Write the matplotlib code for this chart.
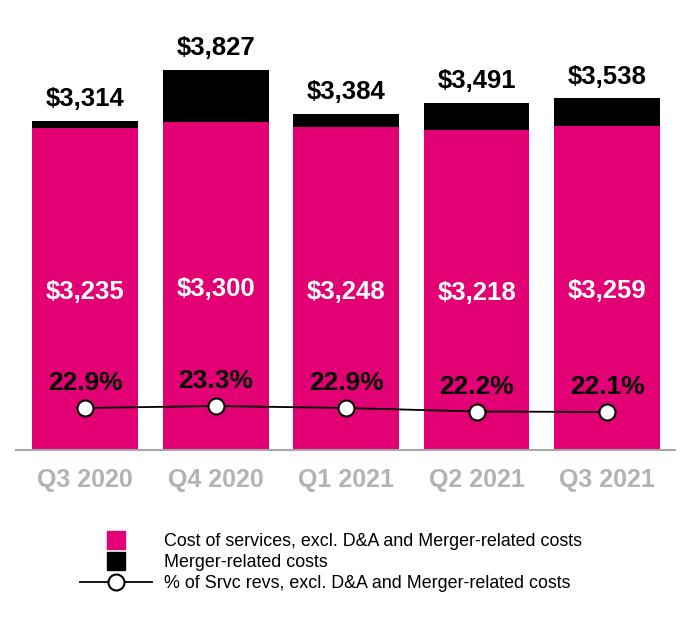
import matplotlib.pyplot as plt
from matplotlib.lines import Line2D

plt.rcParams['font.family'] = ['Liberation Sans', 'DejaVu Sans']

quarters = ['Q3 2020', 'Q4 2020', 'Q1 2021', 'Q2 2021', 'Q3 2021']
cost_services = [3235, 3300, 3248, 3218, 3259]
totals = [3314, 3827, 3384, 3491, 3538]
pct_revs = [22.9, 23.3, 22.9, 22.2, 22.1]

merger = [t - c for t, c in zip(totals, cost_services)]

magenta = '#E20074'
x = list(range(len(quarters)))

fig = plt.figure(figsize=(6.9, 6.2), dpi=100)
ax = fig.add_axes([16 / 690, 170 / 620, 659 / 690, 430 / 620])

ax.bar(x, cost_services, width=0.81, color=magenta, zorder=2)
ax.bar(x, merger, width=0.81, bottom=cost_services, color='black', zorder=2)

ax.set_xlim(-0.53, 4.52)
ax.set_ylim(0, 4326)

for i in x:
    ax.annotate(f'${totals[i]:,}', (i, totals[i]), xytext=(0, 7), textcoords='offset points',
                ha='center', va='bottom', fontsize=18.5, fontweight='bold', color='black')
    ax.text(i, cost_services[i] * 0.49, f'${cost_services[i]:,}', ha='center', va='center',
            fontsize=18.5, fontweight='bold', color='white')

for s in ['top', 'right', 'left']:
    ax.spines[s].set_visible(False)
ax.spines['bottom'].set_color('#a6a6a6')
ax.spines['bottom'].set_linewidth(1.5)
ax.set_yticks([])
ax.set_xticks(x)
ax.set_xticklabels(quarters, fontsize=18, fontweight='bold', color='#b3b3b3')
ax.tick_params(axis='x', length=0, pad=13)

ax2 = ax.twinx()
ax2.set_ylim(14.5, 100.5)
ax2.plot(x, pct_revs, color='black', lw=1.3, marker='o', markersize=11.5,
         markerfacecolor='white', markeredgecolor='black', markeredgewidth=1.5, zorder=3)
for i in x:
    ax2.annotate(f'{pct_revs[i]}%', (i, pct_revs[i]), xytext=(0, 9), textcoords='offset points',
                 ha='center', va='bottom', fontsize=19, fontweight='bold', color='black')
ax2.axis('off')

handles = [
    Line2D([], [], ls='none', marker='s', markersize=13, color=magenta),
    Line2D([], [], ls='none', marker='s', markersize=13, color='black'),
    Line2D([], [], color='black', lw=1.3, marker='o', markersize=11.5,
           markerfacecolor='white', markeredgecolor='black', markeredgewidth=1.5),
]
labels = ['Cost of services, excl. D&A and Merger-related costs',
          'Merger-related costs',
          '% of Srvc revs, excl. D&A and Merger-related costs']
fig.legend(handles, labels, loc='upper left', bbox_to_anchor=(80 / 690, 1 - 533 / 620),
           frameon=False, fontsize=12.9, handlelength=4.0, handletextpad=0.7,
           labelspacing=0.22, borderpad=0, borderaxespad=0)

fig.savefig('out.png', dpi=100)
